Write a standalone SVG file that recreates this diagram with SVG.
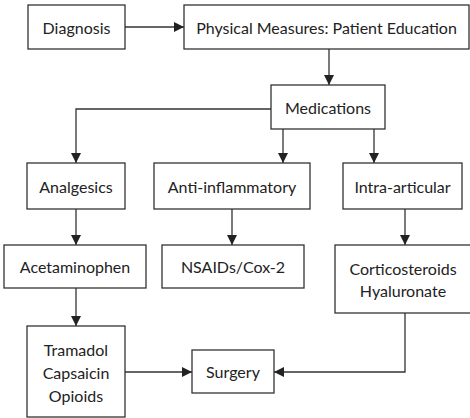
<svg xmlns="http://www.w3.org/2000/svg" width="470" height="418" viewBox="0 0 470 418">
<style>
.box{fill:#fff;stroke:#333;stroke-width:1.3}
.t{font-family:Lato,"Open Sans",sans-serif;font-size:16px;fill:#222;text-anchor:middle;dominant-baseline:central}
.c{fill:none;stroke:#333;stroke-width:1.3}
</style>
<defs>
<marker id="a" viewBox="0 0 10 10" refX="10" refY="5" markerWidth="10" markerHeight="10" markerUnits="userSpaceOnUse" orient="auto">
<path d="M0,0 L10,5 L0,10 Z" fill="#222"/>
</marker>
</defs>
<g id="connectors">
<path class="c" d="M125,27 H184" marker-end="url(#a)"/>
<path class="c" d="M329,49 V85" marker-end="url(#a)"/>
<path class="c" d="M271,109 H76 V163" marker-end="url(#a)"/>
<path class="c" d="M283,129 V163" marker-end="url(#a)"/>
<path class="c" d="M374,129 V163" marker-end="url(#a)"/>
<path class="c" d="M76,209 V245" marker-end="url(#a)"/>
<path class="c" d="M232,209 V245" marker-end="url(#a)"/>
<path class="c" d="M405,209 V245" marker-end="url(#a)"/>
<path class="c" d="M76,288 V326" marker-end="url(#a)"/>
<path class="c" d="M125,372 H192" marker-end="url(#a)"/>
<path class="c" d="M405,313 V372 H274" marker-end="url(#a)"/>
</g>
<g id="diagnosis"><rect class="box" x="28" y="5" width="97" height="44"/><text class="t" x="76.5" y="27">Diagnosis</text></g>
<g id="physical"><rect class="box" x="184" y="5" width="285" height="44"/><text class="t" x="326.5" y="27">Physical Measures: Patient Education</text></g>
<g id="medications"><rect class="box" x="271" y="85" width="114" height="44"/><text class="t" x="328" y="107">Medications</text></g>
<g id="analgesics"><rect class="box" x="27" y="163" width="98" height="46"/><text class="t" x="76" y="186">Analgesics</text></g>
<g id="antiinflammatory"><rect class="box" x="154" y="163" width="156" height="46"/><text class="t" x="232" y="186">Anti-inflammatory</text></g>
<g id="intraarticular"><rect class="box" x="343" y="163" width="119" height="46"/><text class="t" x="402.5" y="186">Intra-articular</text></g>
<g id="acetaminophen"><rect class="box" x="4" y="245" width="142" height="43"/><text class="t" x="75" y="266.5">Acetaminophen</text></g>
<g id="nsaids"><rect class="box" x="162" y="245" width="142" height="43"/><text class="t" x="233" y="266.5">NSAIDs/Cox-2</text></g>
<g id="corticosteroids"><rect class="box" x="335" y="245" width="136" height="68"/><text class="t" x="403" y="268">Corticosteroids</text><text class="t" x="403" y="290">Hyaluronate</text></g>
<g id="tramadol"><rect class="box" x="27" y="326" width="98" height="91"/><text class="t" x="76" y="349">Tramadol</text><text class="t" x="76" y="372">Capsaicin</text><text class="t" x="76" y="395">Opioids</text></g>
<g id="surgery"><rect class="box" x="192" y="350" width="82" height="43"/><text class="t" x="233" y="371.5">Surgery</text></g>
</svg>
